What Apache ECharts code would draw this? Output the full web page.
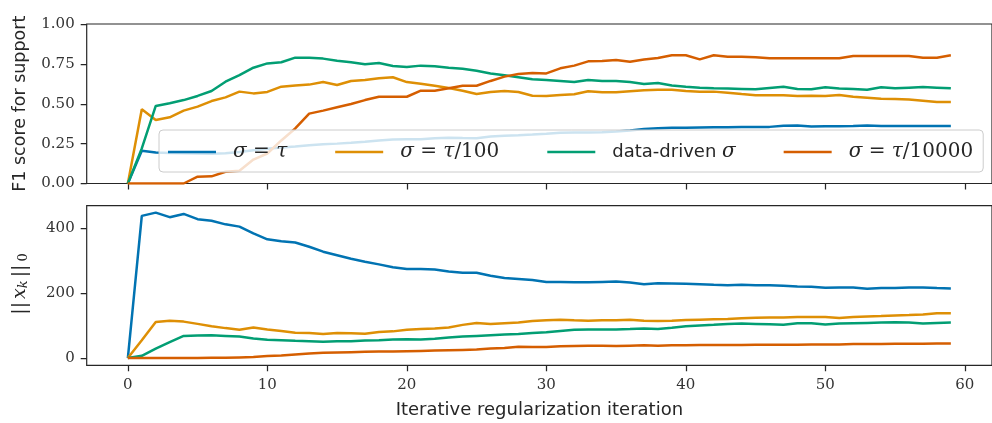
<!DOCTYPE html>
<html><head><meta charset="utf-8">
<script src="https://cdn.jsdelivr.net/npm/echarts@6/dist/echarts.min.js"></script>
<style>html,body{margin:0;padding:0;background:#fff}#c{width:992px;height:423px}</style>
</head><body><div id="c"></div>
<script>
const iterations = [0,1,2,3,4,5,6,7,8,9,10,11,12,13,14,15,16,17,18,19,20,21,22,23,24,25,26,27,28,29,30,31,32,33,34,35,36,37,38,39,40,41,42,43,44,45,46,47,48,49,50,51,52,53,54,55,56,57,58,59];
const seriesNames = ['σ = τ', 'σ = τ/100', 'data-driven σ', 'σ = τ/10000'];
const xTicks = [0,10,20,30,40,50,60];
const f1Ticks = [0,0.25,0.5,0.75,1];
const normTicks = [0,200,400];

// F1 score for support
const f1Tau = [0,0.205,0.195,0.192,0.19,0.188,0.186,0.19,0.198,0.208,0.218,0.225,0.232,0.24,0.246,0.25,0.255,0.262,0.27,0.276,0.277,0.278,0.283,0.287,0.285,0.284,0.295,0.3,0.303,0.307,0.312,0.318,0.319,0.32,0.322,0.326,0.333,0.342,0.347,0.349,0.35,0.351,0.352,0.353,0.354,0.354,0.355,0.362,0.364,0.357,0.359,0.359,0.36,0.364,0.361,0.36,0.361,0.361,0.36,0.361];
const f1Tau100 = [0,0.465,0.398,0.415,0.457,0.482,0.517,0.54,0.576,0.565,0.574,0.607,0.615,0.62,0.636,0.618,0.643,0.649,0.66,0.666,0.636,0.626,0.613,0.599,0.582,0.561,0.574,0.58,0.574,0.55,0.549,0.555,0.559,0.578,0.572,0.572,0.578,0.584,0.588,0.588,0.58,0.576,0.576,0.569,0.561,0.554,0.553,0.553,0.549,0.55,0.549,0.555,0.544,0.538,0.532,0.53,0.526,0.519,0.511,0.511];
const f1Data = [0,0.22,0.486,0.503,0.523,0.549,0.58,0.638,0.68,0.726,0.753,0.76,0.789,0.789,0.783,0.77,0.76,0.747,0.755,0.737,0.73,0.739,0.735,0.726,0.72,0.707,0.69,0.678,0.666,0.653,0.649,0.643,0.636,0.649,0.643,0.643,0.636,0.624,0.63,0.615,0.607,0.601,0.597,0.595,0.593,0.591,0.599,0.607,0.593,0.591,0.603,0.595,0.593,0.588,0.603,0.597,0.601,0.605,0.601,0.597];
const f1Tau10000 = [0,0,0,0,0,0.043,0.045,0.074,0.08,0.15,0.188,0.27,0.345,0.438,0.457,0.478,0.498,0.523,0.544,0.544,0.544,0.582,0.582,0.597,0.613,0.613,0.643,0.67,0.686,0.693,0.69,0.722,0.739,0.766,0.768,0.774,0.764,0.778,0.787,0.804,0.804,0.778,0.804,0.795,0.795,0.791,0.785,0.785,0.785,0.785,0.785,0.785,0.8,0.8,0.8,0.8,0.8,0.789,0.789,0.804];

// ||x_k||_0
const l0Tau = [0,437,447,433,443,427,422,411,404,383,365,359,355,342,327,316,305,296,288,279,274,274,272,266,262,262,253,246,243,240,234,234,233,233,234,235,232,227,230,229,228,227,225,224,225,224,224,222,220,219,216,217,217,213,215,215,217,217,215,214];
const l0Tau100 = [0,55,111,115,112,105,98,92,87,94,88,83,78,77,74,77,76,75,80,82,87,89,91,94,102,108,105,107,109,114,116,118,116,115,116,116,118,115,114,115,117,118,119,120,122,124,125,125,126,126,126,123,126,128,129,131,132,134,138,138];
const l0Data = [0,7,29,49,68,69,70,68,66,60,56,55,53,52,50,52,52,54,55,57,58,57,59,63,66,68,70,72,74,77,79,83,87,88,88,88,89,91,89,93,98,100,102,105,106,105,104,102,107,107,103,106,107,108,109,110,109,106,108,109];
const l0Tau10000 = [0,0,0,0,0,0,1,1,2,3,6,8,11,14,16,17,18,19,20,20,21,22,23,24,25,26,29,31,35,34,34,36,37,38,38,37,38,39,38,39,39,40,40,40,40,41,41,41,41,42,42,42,43,43,43,44,44,44,45,45];

const colors = ['#0173B2', '#DE8F05', '#029E73', '#D55E00'];
const ink = '#262626';
const serif = 'DejaVu Serif';
const sans = 'DejaVu Sans';

function pairs(vals) { return iterations.map((x, i) => [x, vals[i]]); }

const legendRich = {
  '\u03c3 = \u03c4': '{m|σ}{r| = }{m|τ}',
  '\u03c3 = \u03c4/100': '{m|σ}{r| = }{m|τ}{r|/100}',
  'data-driven \u03c3': '{s|data-driven }{m|σ}',
  '\u03c3 = \u03c4/10000': '{m|σ}{r| = }{m|τ}{r|/10000}'
};

const tickStyle = {show: true, inside: false, length: 6, lineStyle: {color: ink, width: 1.25}};
const labelStyle = {fontFamily: serif, fontSize: 15, color: '#333'};

function xAxis(gridIndex, showLabels, extra) {
  return Object.assign({
    type: 'value', gridIndex, min: -2.95, max: 61.95,
    axisLine: {show: false, onZero: false},
    splitLine: {show: false},
    axisTick: Object.assign({customValues: xTicks}, tickStyle),
    axisLabel: Object.assign({show: showLabels, customValues: xTicks, margin: 12}, labelStyle)
  }, extra || {});
}

const seriesSets = [
  [f1Tau, f1Tau100, f1Data, f1Tau10000],
  [l0Tau, l0Tau100, l0Data, l0Tau10000]
];
const series = [];
seriesSets.forEach((set, g) => {
  set.forEach((vals, k) => {
    series.push({
      type: 'line', name: seriesNames[k], xAxisIndex: g, yAxisIndex: g,
      data: pairs(vals), symbol: 'none', smooth: false,
      lineStyle: {color: colors[k], width: 2.5},
      itemStyle: {color: colors[k]},
      emphasis: {disabled: true}
    });
  });
});

const option = {
  animation: false,
  backgroundColor: '#ffffff',
  grid: [
    {left: 86.7, top: 24, width: 910.7, height: 159.5, show: true, borderColor: ink, borderWidth: 1.2, backgroundColor: 'transparent'},
    {left: 86.7, top: 205.7, width: 910.7, height: 159.6, show: true, borderColor: ink, borderWidth: 1.2, backgroundColor: 'transparent'}
  ],
  xAxis: [
    xAxis(0, false),
    xAxis(1, true, {
      name: 'Iterative regularization iteration', nameLocation: 'middle', nameGap: 36,
      nameTextStyle: {fontFamily: sans, fontSize: 18, color: ink}
    })
  ],
  yAxis: [
    {
      type: 'value', gridIndex: 0, min: 0, max: 1, interval: 0.25,
      axisLine: {show: false, onZero: false}, splitLine: {show: false},
      axisTick: tickStyle,
      axisLabel: Object.assign({margin: 12, formatter: v => v.toFixed(2)}, labelStyle),
      name: 'F1 score for support', nameLocation: 'middle', nameRotate: 90, nameGap: 57,
      nameTextStyle: {fontFamily: sans, fontSize: 17.5, color: ink}
    },
    {
      type: 'value', gridIndex: 1, min: -22.3, max: 468.3,
      axisLine: {show: false, onZero: false}, splitLine: {show: false},
      axisTick: Object.assign({customValues: normTicks}, tickStyle),
      axisLabel: Object.assign({margin: 12, customValues: normTicks}, labelStyle),
      name: '{b|||}{i|x}{k|k}{b|||}{z|0}', nameLocation: 'middle', nameRotate: 90, nameGap: 57,
      nameTextStyle: {
        color: ink,
        rich: {
          b: {fontFamily: serif, fontSize: 19, color: ink, padding: [0, 3, 0, 3]},
          i: {fontFamily: serif, fontStyle: 'italic', fontSize: 19, color: ink},
          k: {fontFamily: serif, fontStyle: 'italic', fontSize: 13, color: ink, verticalAlign: 'bottom'},
          z: {fontFamily: serif, fontSize: 13, color: ink, verticalAlign: 'bottom'}
        }
      }
    }
  ],
  legend: {
    data: seriesNames.map(n => ({name: n, icon: 'rect'})),
    left: 159, top: 130, orient: 'horizontal',
    padding: [12, 10, 10, 9], itemGap: 48, itemWidth: 48, itemHeight: 2.6,
    backgroundColor: 'rgba(255,255,255,0.8)', borderColor: '#cccccc', borderWidth: 1, borderRadius: 4,
    selectedMode: false,
    formatter: name => legendRich[name] || name,
    textStyle: {
      color: ink, padding: [0, 0, 0, 12],
      rich: {
        m: {fontFamily: serif, fontStyle: 'italic', fontSize: 20, color: ink},
        r: {fontFamily: serif, fontSize: 20, color: ink},
        s: {fontFamily: sans, fontSize: 18, color: ink}
      }
    }
  },
  series
};

const chart = echarts.init(document.getElementById('c'), null, {renderer: 'canvas'});
chart.setOption(option);
</script>
</body></html>
